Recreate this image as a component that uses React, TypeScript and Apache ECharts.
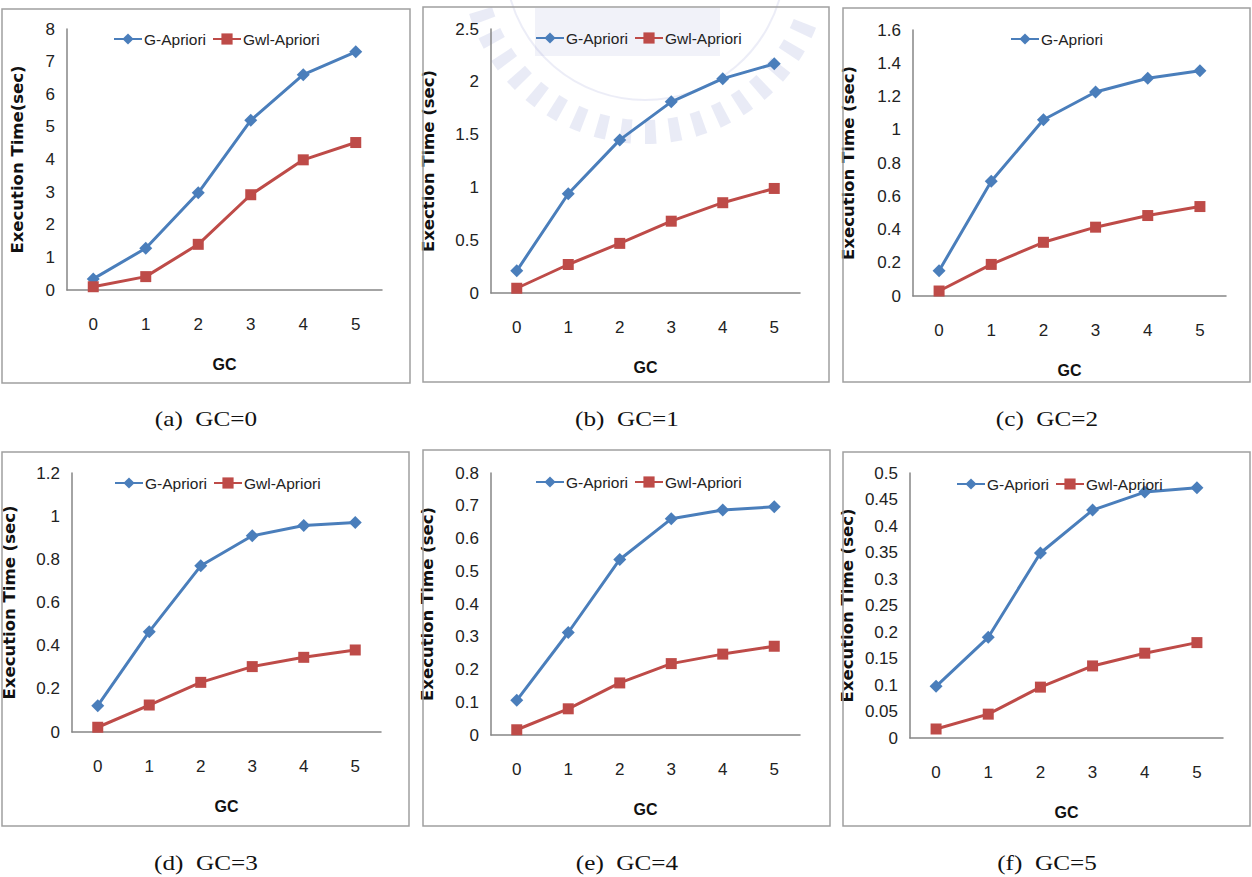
import React, { useEffect, useRef } from "react";
import * as echarts from "echarts";

const categories = ["0", "1", "2", "3", "4", "5"];

const gA = [0.34, 1.28, 2.98, 5.2, 6.6, 7.3];
const gwlA = [0.1, 0.41, 1.4, 2.92, 3.99, 4.52];
const gB = [0.21, 0.94, 1.45, 1.81, 2.03, 2.17];
const gwlB = [0.045, 0.27, 0.47, 0.68, 0.855, 0.99];
const gC = [0.152, 0.69, 1.06, 1.227, 1.31, 1.355];
const gwlC = [0.03, 0.19, 0.323, 0.414, 0.484, 0.538];
const gD = [0.122, 0.465, 0.77, 0.909, 0.957, 0.971];
const gwlD = [0.022, 0.125, 0.23, 0.303, 0.346, 0.38];
const gE = [0.106, 0.313, 0.536, 0.66, 0.687, 0.697];
const gwlE = [0.016, 0.08, 0.159, 0.218, 0.247, 0.271];
const gF = [0.0975, 0.19, 0.349, 0.43, 0.464, 0.472];
const gwlF = [0.017, 0.045, 0.096, 0.136, 0.16, 0.18];

const yMax = [8, 2.5, 1.6, 1.2, 0.8, 0.5];
const yStep = [1, 0.5, 0.2, 0.2, 0.1, 0.05];
const yTitles = [
  "Execution Time(sec)",
  "Exection Time (sec)",
  "Execution Time (sec)",
  "Execution Time (sec)",
  "Execution Time (sec)",
  "Execution Time (sec)",
];
const captions = ["(a)  GC=0", "(b)  GC=1", "(c)  GC=2", "(d)  GC=3", "(e)  GC=4", "(f)  GC=5"];
const xTitle = "GC";
const seriesNames = ["G-Apriori", "Gwl-Apriori"];
const legendItems = [seriesNames, seriesNames, ["G-Apriori"], seriesNames, seriesNames, seriesNames];

const gSeries = [gA, gB, gC, gD, gE, gF];
const gwlSeries = [gwlA, gwlB, gwlC, gwlD, gwlE, gwlF];

// layout (pixels)
const grids = [
  { left: 67, top: 29, width: 315, height: 261 },
  { left: 491, top: 29, width: 309, height: 264 },
  { left: 913, top: 30, width: 313, height: 266 },
  { left: 70, top: 473, width: 311, height: 259 },
  { left: 491, top: 473, width: 309, height: 262 },
  { left: 910, top: 473, width: 313, height: 265 },
];
const boxes = [
  { x: 2, y: 9, w: 408, h: 374 },
  { x: 423, y: 7, w: 406, h: 375 },
  { x: 843, y: 8, w: 407, h: 374 },
  { x: 2, y: 452, w: 407, h: 374 },
  { x: 423, y: 450, w: 407, h: 376 },
  { x: 843, y: 452, w: 407, h: 374 },
];
const legendPos = [
  { left: 108, top: 26 },
  { left: 530, top: 25 },
  { left: 1005, top: 26 },
  { left: 109, top: 470 },
  { left: 530, top: 469 },
  { left: 951, top: 471 },
];
const captionPos = [
  { x: 206, y: 419 },
  { x: 627, y: 419 },
  { x: 1047, y: 419 },
  { x: 206, y: 863 },
  { x: 627, y: 863 },
  { x: 1047, y: 863 },
];
const nameGaps = [41, 54, 56, 54, 55, 54];

const BLUE = "#4a7ebb";
const RED = "#be4b48";
const SANS = "'Liberation Sans', Arial, sans-serif";

export default function App() {
  const ref = useRef<HTMLDivElement>(null);
  useEffect(() => {
    if (!ref.current) return;
    const chart = echarts.init(ref.current, undefined, { renderer: "svg" });

    const graphic: any[] = [];
    // faint watermark approximation over panel (b)
    const cx = 645, cy = -40;
    for (let a = 0.12; a < 0.9; a += 0.045) {
      graphic.push({
        type: "sector",
        silent: true,
        shape: { cx, cy, r0: 160, r: 184, startAngle: a * Math.PI, endAngle: (a + 0.02) * Math.PI },
        style: { fill: "rgba(120,128,200,0.16)" },
        z: 0,
      });
    }
    graphic.push({
      type: "arc",
      silent: true,
      shape: { cx, cy, r: 140, startAngle: 0.05 * Math.PI, endAngle: 0.95 * Math.PI },
      style: { stroke: "rgba(120,128,200,0.14)", lineWidth: 2, fill: "none" },
      z: 0,
    });
    graphic.push({
      type: "rect",
      silent: true,
      shape: { x: 535, y: 8, width: 185, height: 48 },
      style: { fill: "rgba(120,128,200,0.1)" },
      z: 0,
    });

    boxes.forEach((b) => {
      graphic.push({
        type: "rect",
        silent: true,
        shape: { x: b.x, y: b.y, width: b.w, height: b.h },
        style: { fill: "none", stroke: "#a0a0a0", lineWidth: 1.5 },
        z: 1,
      });
    });
    captions.forEach((c, i) => {
      graphic.push({
        type: "text",
        silent: true,
        x: captionPos[i].x,
        y: captionPos[i].y,
        scaleX: 1.2,
        style: {
          text: c,
          font: "21px 'Liberation Serif', 'Times New Roman', serif",
          fill: "#111",
          align: "center",
          verticalAlign: "middle",
        },
      });
    });

    const option: any = {
      animation: false,
      backgroundColor: "#ffffff",
      graphic,
      legend: legendItems.map((items, i) => ({
        data: items,
        left: legendPos[i].left,
        top: legendPos[i].top,
        itemWidth: 28,
        itemHeight: 14,
        itemGap: 6,
        selectedMode: false,
        textStyle: { fontFamily: SANS, fontSize: 15.5, color: "#222", padding: [0, 0, 0, -3] },
      })),
      grid: grids.map((g) => ({ ...g, containLabel: false })),
      xAxis: grids.map((_, i) => ({
        type: "category",
        gridIndex: i,
        data: categories,
        boundaryGap: true,
        name: xTitle,
        nameLocation: "middle",
        nameGap: 66,
        nameTextStyle: { fontFamily: SANS, fontWeight: "bold", fontSize: 16, color: "#111" },
        axisLine: { show: true, lineStyle: { color: "#868686", width: 1.5 } },
        axisTick: { show: false },
        axisLabel: { fontFamily: SANS, fontSize: 17, color: "#222", margin: 26 },
        splitLine: { show: false },
      })),
      yAxis: grids.map((_, i) => ({
        type: "value",
        gridIndex: i,
        min: 0,
        max: yMax[i],
        interval: yStep[i],
        name: yTitles[i],
        nameLocation: "middle",
        nameGap: nameGaps[i],
        nameRotate: 90,
        nameTextStyle: { fontFamily: "'DejaVu Sans', sans-serif", fontWeight: "bold", fontSize: 16.5, color: "#111" },
        axisLine: { show: true, lineStyle: { color: "#868686", width: 1.5 } },
        axisTick: { show: false },
        splitLine: { show: false },
        axisLabel: {
          fontFamily: SANS,
          fontSize: 17,
          color: "#222",
          margin: 12,
          formatter: (v: number) => String(parseFloat(v.toFixed(2))),
        },
      })),
      series: grids.flatMap((_, i) => [
        {
          name: seriesNames[0],
          type: "line",
          xAxisIndex: i,
          yAxisIndex: i,
          data: gSeries[i],
          symbol: "diamond",
          symbolSize: 13,
          lineStyle: { color: BLUE, width: 3 },
          itemStyle: { color: BLUE },
          z: 3,
        },
        {
          name: seriesNames[1],
          type: "line",
          xAxisIndex: i,
          yAxisIndex: i,
          data: gwlSeries[i],
          symbol: "rect",
          symbolSize: 11,
          lineStyle: { color: RED, width: 3 },
          itemStyle: { color: RED },
          z: 3,
        },
      ]),
    };
    chart.setOption(option);
    return () => chart.dispose();
  }, []);
  return (
    <div
      ref={ref}
      style={{ position: "absolute", left: 0, top: 0, width: 1252, height: 877 }}
    />
  );
}
